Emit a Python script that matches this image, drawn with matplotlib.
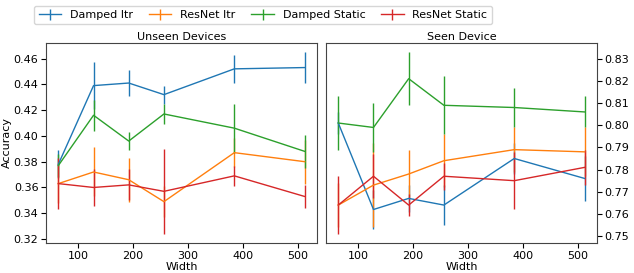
import numpy as np
import matplotlib
matplotlib.use("Agg")
import matplotlib.pyplot as plt

plt.rcParams['font.size'] = 8

widths = [64, 128, 192, 256, 384, 512]
labels = ['Damped Itr', 'ResNet Itr', 'Damped Static', 'ResNet Static']
colors = ['tab:blue', 'tab:orange', 'tab:green', 'tab:red']

# unseen devices: mean and error per model
unseen_mean = [
    [0.378, 0.439, 0.441, 0.432, 0.452, 0.453],
    [0.363, 0.372, 0.366, 0.349, 0.387, 0.380],
    [0.377, 0.416, 0.396, 0.417, 0.406, 0.388],
    [0.363, 0.360, 0.362, 0.357, 0.369, 0.353],
]
unseen_err = [
    [0.011, 0.018, 0.010, 0.007, 0.011, 0.012],
    [0.015, 0.019, 0.017, 0.012, 0.011, 0.017],
    [0.009, 0.012, 0.007, 0.008, 0.019, 0.013],
    [0.020, 0.014, 0.012, 0.033, 0.008, 0.009],
]

# seen device
seen_mean = [
    [0.801, 0.762, 0.767, 0.764, 0.785, 0.776],
    [0.764, 0.773, 0.778, 0.784, 0.789, 0.788],
    [0.801, 0.799, 0.821, 0.809, 0.808, 0.806],
    [0.764, 0.777, 0.764, 0.777, 0.775, 0.781],
]
seen_err = [
    [0.005, 0.009, 0.006, 0.009, 0.007, 0.010],
    [0.010, 0.019, 0.011, 0.012, 0.010, 0.011],
    [0.012, 0.011, 0.012, 0.013, 0.009, 0.007],
    [0.013, 0.010, 0.005, 0.006, 0.013, 0.008],
]

fig, (ax1, ax2) = plt.subplots(1, 2, figsize=(6.34, 2.73), dpi=100)
fig.subplots_adjust(left=0.0726, right=0.9416, top=0.8425, bottom=0.110, wspace=0.033)

for i in range(4):
    ax1.errorbar(widths, unseen_mean[i], yerr=unseen_err[i], color=colors[i],
                 lw=1, elinewidth=1, label=labels[i])
    ax2.errorbar(widths, seen_mean[i], yerr=seen_err[i], color=colors[i],
                 lw=1, elinewidth=1)

ax1.set_title('Unseen Devices', fontsize=8, pad=2)
ax2.set_title('Seen Device', fontsize=8, pad=2)
ax1.set_xlabel('Width', labelpad=1)
ax2.set_xlabel('Width', labelpad=1)
ax1.set_ylabel('Accuracy', labelpad=1)
ax2.yaxis.tick_right()
ax1.set_yticks(np.arange(0.32, 0.461, 0.02))
ax2.set_yticks(np.arange(0.75, 0.831, 0.01))
for ax in (ax1, ax2):
    ax.set_xticks([100, 200, 300, 400, 500])
    ax.tick_params(pad=2)
    for s in ax.spines.values():
        s.set_color('#444444')

fig.legend(loc='upper center', bbox_to_anchor=(0.415, 1.0), ncol=4, fontsize=8,
           columnspacing=1.45)

fig.savefig('out.png', dpi=100)
